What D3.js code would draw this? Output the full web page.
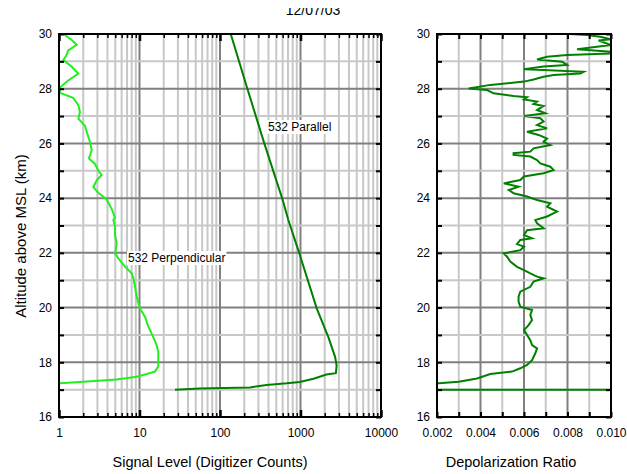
<!DOCTYPE html>
<html>
<head>
<meta charset="utf-8">
<script src="https://cdn.jsdelivr.net/npm/d3@7"></script>
<style>
  body { margin: 0; background: #fff; }
  svg { display: block; font-family: "Liberation Sans", Arial, sans-serif; }
</style>
</head>
<body>
<svg width="627" height="474"></svg>
<script>
// values (altitude in km)
var perpAlt = [17.22, 17.23, 17.29, 17.37, 17.47, 17.57, 17.66, 17.84, 18.39, 18.63, 18.93, 19.3, 19.67, 19.97,
  20.4, 20.77, 21.07, 21.25, 21.5, 21.8, 21.98, 22.35, 22.66, 22.96, 23.2, 23.3, 23.6, 23.95, 24.2, 24.4,
  24.65, 24.85, 25.0, 25.25, 25.45, 25.75, 26.05, 26.35, 26.65, 26.9, 27.15, 27.4, 27.67, 27.85, 28.05,
  28.3, 28.55, 28.8, 29.05, 29.2, 29.4, 29.6, 29.78, 30.0];
var perpSignal = [1.0, 1.03, 2.0, 5.2, 9.2, 12.3, 15.5, 17.1, 17.1, 16.3, 14.8, 12.9, 11.7, 10.1,
  9.2, 8.8, 8.4, 8.0, 6.6, 5.46, 5.0, 5.2, 4.96, 4.96, 4.73, 4.96, 4.52, 3.91, 3.08, 2.67,
  2.94, 3.39, 3.08, 2.8, 2.35, 2.55, 2.43, 2.25, 2.1, 1.74, 1.82, 1.74, 1.5, 1.03, 1.03,
  1.3, 1.74, 1.44, 1.13, 1.23, 1.3, 1.66, 1.44, 1.13];

var parAlt = [17.0, 17.04, 17.08, 17.17, 17.23, 17.28, 17.4, 17.55, 17.6, 17.88, 18.2, 18.93, 19.97,
  21.98, 23.2, 23.93, 26.0, 28.07, 30.0];
var parSignal = [27.6, 56, 235, 380, 675, 980, 1450, 2100, 2750, 2810, 2690, 2213, 1590,
  967, 706, 601, 355, 215, 136];

var depolAlt = [30.0, 29.96, 29.9, 29.81, 29.76, 29.6, 29.44, 29.35, 29.29, 29.23, 29.17, 29.07, 28.99,
  28.87, 28.81, 28.71, 28.68, 28.62, 28.56, 28.5, 28.44, 28.34, 28.26, 28.14, 28.01, 27.95, 27.83,
  27.73, 27.69, 27.61, 27.53, 27.44, 27.37, 27.22, 27.1, 27.0, 26.92, 26.8, 26.67, 26.55, 26.43,
  26.31, 26.18, 26.06, 25.94, 25.82, 25.7, 25.64, 25.58, 25.52, 25.39, 25.27, 25.15, 25.03, 24.91,
  24.79, 24.66, 24.54, 24.42, 24.3, 24.18, 24.06, 23.93, 23.81, 23.69, 23.51, 23.33, 23.2, 23.08,
  22.9, 22.83, 22.65, 22.53, 22.47, 22.32, 22.23, 22.1, 21.98, 21.86, 21.68, 21.49, 21.37, 21.25,
  21.13, 21.07, 20.95, 20.76, 20.58, 20.4, 20.22, 20.03, 19.91, 19.73, 19.54, 19.36, 19.18, 19.0,
  18.81, 18.63, 18.51, 18.33, 18.08, 17.9, 17.78, 17.66, 17.57, 17.41, 17.29, 17.23, 17.22, 17.0, 17.0];
var depolRatio = [0.0081, 0.0089, 0.0095, 0.0100, 0.00943, 0.0100, 0.00844, 0.0100, 0.0100, 0.00798, 0.00706, 0.0066, 0.00775,
  0.00798, 0.0069, 0.0060, 0.0069, 0.00874, 0.00859, 0.00736, 0.0069, 0.00644, 0.0060, 0.00445, 0.00346, 0.0043, 0.0046,
  0.00552, 0.00614, 0.0060, 0.0066, 0.00644, 0.0069, 0.0066, 0.00698, 0.0060, 0.00675, 0.0069, 0.0066, 0.00706, 0.00614,
  0.00667, 0.00706, 0.0069, 0.00721, 0.00644, 0.00629, 0.00552, 0.00552, 0.00629, 0.0066, 0.00675, 0.00721, 0.00736, 0.0069,
  0.0060, 0.00583, 0.00507, 0.00575, 0.0053, 0.00552, 0.00614, 0.0066, 0.00721, 0.00706, 0.00752, 0.00706, 0.00652, 0.0066,
  0.0069, 0.00614, 0.0060, 0.00637, 0.00583, 0.00568, 0.0060, 0.00583, 0.00507, 0.00522, 0.00537, 0.00568, 0.0060, 0.00629,
  0.0066, 0.0069, 0.00644, 0.00629, 0.00583, 0.00575, 0.00575, 0.00583, 0.00637, 0.00629, 0.00637, 0.00621, 0.0060, 0.00614,
  0.00629, 0.00637, 0.0066, 0.00652, 0.00637, 0.00614, 0.00583, 0.00545, 0.00445, 0.00384, 0.003, 0.00208, 0.0, 0.0, 0.02];

var signalTicks = [1, 10, 100, 1000, 10000];
var depolTicks = [0.002, 0.003, 0.004, 0.005, 0.006, 0.007, 0.008, 0.009, 0.010];
var altTicks = d3.range(16, 31);
var title = "12/07/03";

var svg = d3.select("svg");
var top0 = 34, bottom0 = 417;

// scales
var y = d3.scaleLinear().domain([16, 30]).range([bottom0, top0]);
var xs = d3.scaleLog().domain([1, 10000]).range([59, 381]);
var xd = d3.scaleLinear().domain([0.002, 0.010]).range([437, 611]);

// all log positions 1,2,...,9,10,20,...
var logVals = [];
signalTicks.slice(0, -1).forEach(function(d) {
  for (var k = 1; k < 10; k++) logVals.push(d * k);
});
logVals.push(10000);
function isDecade(v) { return signalTicks.indexOf(v) >= 0; }

var light = "#c8c8c8", dark = "#808080";

// clip paths
var defs = svg.append("defs");
defs.append("clipPath").attr("id", "clipL").append("rect")
  .attr("x", xs.range()[0]).attr("y", top0).attr("width", xs.range()[1] - xs.range()[0]).attr("height", bottom0 - top0);
defs.append("clipPath").attr("id", "clipR").append("rect")
  .attr("x", xd.range()[0]).attr("y", top0).attr("width", xd.range()[1] - xd.range()[0]).attr("height", bottom0 - top0);
defs.append("clipPath").attr("id", "clipT").append("rect")
  .attr("x", 0).attr("y", 8).attr("width", 627).attr("height", 20);

// ---- grids ----
function hGrid(g, x0, x1) {
  g.selectAll("line.h").data(altTicks.slice(1, -1)).enter().append("line")
    .attr("x1", x0).attr("x2", x1)
    .attr("y1", function(d) { return y(d); }).attr("y2", function(d) { return y(d); })
    .attr("stroke", function(d) { return d % 2 === 0 ? dark : light; })
    .attr("stroke-width", 2);
}
var gridL = svg.append("g");
gridL.selectAll("line.v").data(logVals.slice(1, -1)).enter().append("line")
  .attr("x1", function(d) { return xs(d); }).attr("x2", function(d) { return xs(d); })
  .attr("y1", top0).attr("y2", bottom0)
  .attr("stroke", function(d) { return isDecade(d) ? dark : light; })
  .attr("stroke-width", 2);
hGrid(gridL, xs.range()[0], xs.range()[1]);

var gridR = svg.append("g");
gridR.selectAll("line.v").data(depolTicks.slice(1, -1)).enter().append("line")
  .attr("x1", function(d) { return xd(d); }).attr("x2", function(d) { return xd(d); })
  .attr("y1", top0).attr("y2", bottom0)
  .attr("stroke", function(d, i) { return i % 2 === 1 ? dark : light; })
  .attr("stroke-width", 2);
hGrid(gridR, xd.range()[0], xd.range()[1]);

// ---- curves ----
function pts(xv, yv) { return xv.map(function(v, i) { return [v, yv[i]]; }); }

var lineS = d3.line().x(function(d) { return xs(d[0]); }).y(function(d) { return y(d[1]); });
var lineD = d3.line().x(function(d) { return xd(d[0]); }).y(function(d) { return y(d[1]); });

svg.append("path").datum(pts(perpSignal, perpAlt))
  .attr("clip-path", "url(#clipL)")
  .attr("d", lineS).attr("fill", "none").attr("stroke", "#22ee22").attr("stroke-width", 2);
svg.append("path").datum(pts(parSignal, parAlt))
  .attr("clip-path", "url(#clipL)")
  .attr("d", lineS).attr("fill", "none").attr("stroke", "#008000").attr("stroke-width", 2);
svg.append("path").datum(pts(depolRatio, depolAlt))
  .attr("clip-path", "url(#clipR)")
  .attr("d", lineD).attr("fill", "none").attr("stroke", "#008000").attr("stroke-width", 2);

// ---- labels on curves ----
function tag(x, yb, txt) {
  var t = svg.append("text").attr("x", x).attr("y", yb).attr("font-size", 12).text(txt);
  var b = t.node().getBBox();
  svg.insert("rect", function() { return t.node(); })
    .attr("x", b.x - 1).attr("y", b.y).attr("width", b.width + 2).attr("height", b.height).attr("fill", "#fff");
}
tag(128, 262, "532 Perpendicular");
tag(268, 131, "532 Parallel");

// ---- axes ----
function style(g) {
  g.select(".domain").remove();
  g.selectAll(".tick line").attr("stroke", "#000");
  g.selectAll("text").attr("font-size", 12).attr("fill", "#000").attr("font-family", null);
}
// left panel, x
[[logVals.filter(function(d) { return !isDecade(d); }), -4, 1.5], [signalTicks, -7, 2.5]].forEach(function(s) {
  svg.append("g").attr("transform", "translate(0," + bottom0 + ")")
    .call(d3.axisBottom(xs).tickValues(s[0]).tickSize(s[1]).tickPadding(11)
      .tickFormat(function(d) { return isDecade(d) ? d3.format("d")(d) : ""; }))
    .call(style).selectAll(".tick line").attr("stroke-width", s[2]);
  svg.append("g").attr("transform", "translate(0," + top0 + ")")
    .call(d3.axisTop(xs).tickValues(s[0]).tickSize(s[1]).tickFormat(""))
    .call(style).selectAll(".tick line").attr("stroke-width", s[2]);
});
// left panel, y
svg.append("g").attr("transform", "translate(" + xs.range()[0] + ",0)")
  .call(d3.axisLeft(y).tickValues(altTicks).tickSize(-5).tickPadding(7)
    .tickFormat(function(d) { return d % 2 === 0 ? d : ""; }))
  .call(style).selectAll(".tick line").attr("stroke-width", 2);
svg.append("g").attr("transform", "translate(" + xs.range()[1] + ",0)")
  .call(d3.axisRight(y).tickValues(altTicks).tickSize(-5).tickFormat(""))
  .call(style).selectAll(".tick line").attr("stroke-width", 2);

// right panel
svg.append("g").attr("transform", "translate(0," + bottom0 + ")")
  .call(d3.axisBottom(xd).tickValues(depolTicks).tickSize(-5).tickPadding(11)
    .tickFormat(function(d, i) { return i % 2 === 0 ? d3.format(".3f")(d) : ""; }))
  .call(style).selectAll(".tick line").attr("stroke-width", 2);
svg.append("g").attr("transform", "translate(0," + top0 + ")")
  .call(d3.axisTop(xd).tickValues(depolTicks).tickSize(-5).tickFormat(""))
  .call(style).selectAll(".tick line").attr("stroke-width", 2);
svg.append("g").attr("transform", "translate(" + xd.range()[0] + ",0)")
  .call(d3.axisLeft(y).tickValues(altTicks).tickSize(-5).tickPadding(7)
    .tickFormat(function(d) { return d % 2 === 0 ? d : ""; }))
  .call(style).selectAll(".tick line").attr("stroke-width", 2);
svg.append("g").attr("transform", "translate(" + xd.range()[1] + ",0)")
  .call(d3.axisRight(y).tickValues(altTicks).tickSize(-5).tickFormat(""))
  .call(style).selectAll(".tick line").attr("stroke-width", 2);

// frames
[xs, xd].forEach(function(sc) {
  svg.append("rect")
    .attr("x", sc.range()[0]).attr("y", top0)
    .attr("width", sc.range()[1] - sc.range()[0]).attr("height", bottom0 - top0)
    .attr("fill", "none").attr("stroke", "#000").attr("stroke-width", 2);
});

// titles
svg.append("text").attr("x", 210).attr("y", 467).attr("text-anchor", "middle")
  .attr("font-size", 14.5).text("Signal Level (Digitizer Counts)");
svg.append("text").attr("x", 511).attr("y", 467).attr("text-anchor", "middle")
  .attr("font-size", 14.5).text("Depolarization Ratio");
svg.append("text").attr("transform", "translate(26,236) rotate(-90)").attr("text-anchor", "middle")
  .attr("font-size", 15).text("Altitude above MSL (km)");
svg.append("text").attr("x", 313).attr("y", 15).attr("text-anchor", "middle")
  .attr("clip-path", "url(#clipT)").attr("font-size", 14).text(title);
</script>
</body>
</html>
